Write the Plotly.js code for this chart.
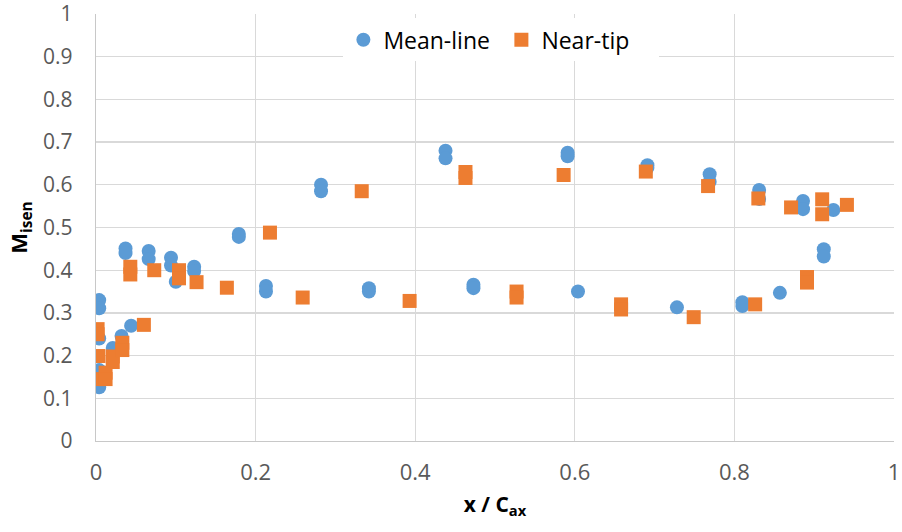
<!DOCTYPE html>
<html>
<head>
<meta charset="utf-8">
<script src="https://cdn.plot.ly/plotly-3.0.1.min.js"></script>
<style>html,body{margin:0;padding:0;background:#fff;}#chart{width:902px;height:532px;}</style>
</head>
<body>
<div id="chart"></div>
<script>
// Mean-line series
const meanX = [0.004,0.004,0.004,0.004,0.004,0.004,0.021,0.032,0.044,0.037,0.037,0.066,0.066,0.094,0.094,0.100,0.123,0.123,0.179,0.179,0.213,0.213,0.282,0.282,0.342,0.342,0.438,0.438,0.473,0.473,0.591,0.591,0.604,0.691,0.691,0.728,0.769,0.769,0.810,0.810,0.831,0.831,0.857,0.886,0.886,0.912,0.912,0.924];
const meanY = [0.330,0.311,0.240,0.166,0.160,0.126,0.218,0.246,0.270,0.451,0.440,0.445,0.426,0.429,0.411,0.373,0.408,0.398,0.485,0.478,0.363,0.350,0.600,0.585,0.358,0.350,0.680,0.662,0.366,0.358,0.675,0.667,0.350,0.646,0.640,0.313,0.625,0.607,0.325,0.316,0.588,0.567,0.347,0.562,0.543,0.449,0.432,0.541];
// Near-tip series
const tipX = [0.002,0.002,0.003,0.003,0.012,0.012,0.021,0.021,0.033,0.033,0.060,0.043,0.043,0.073,0.104,0.104,0.126,0.164,0.218,0.259,0.333,0.393,0.463,0.463,0.527,0.527,0.586,0.658,0.658,0.689,0.749,0.767,0.826,0.830,0.871,0.891,0.891,0.910,0.910,0.941];
const tipY = [0.262,0.250,0.199,0.145,0.160,0.145,0.198,0.185,0.230,0.213,0.272,0.408,0.390,0.400,0.400,0.381,0.372,0.359,0.488,0.336,0.585,0.328,0.630,0.616,0.350,0.336,0.623,0.320,0.308,0.631,0.290,0.597,0.320,0.568,0.547,0.384,0.371,0.566,0.531,0.553];

const seriesNames = ['Mean-line','Near-tip'];
const xTicks = [0,0.2,0.4,0.6,0.8,1];
const xTickText = ['0','0.2','0.4','0.6','0.8','1'];
const yTicks = [0,0.1,0.2,0.3,0.4,0.5,0.6,0.7,0.8,0.9,1];
const yTickText = ['0','0.1','0.2','0.3','0.4','0.5','0.6','0.7','0.8','0.9','1'];

const font = 'Open Sans, Liberation Sans, sans-serif';

const traces = [
  {x: meanX, y: meanY, name: seriesNames[0], type: 'scatter', mode: 'markers',
   marker: {symbol: 'circle', size: 14, color: '#5B9BD5'}},
  {x: tipX, y: tipY, name: seriesNames[1], type: 'scatter', mode: 'markers',
   marker: {symbol: 'square', size: 14, color: '#ED7D31'}}
];

const layout = {
  width: 902, height: 532,
  margin: {l: 96, r: 8, t: 14, b: 91},
  paper_bgcolor: '#ffffff', plot_bgcolor: '#ffffff',
  font: {family: font, color: '#595959', size: 21},
  showlegend: true,
  legend: {
    orientation: 'h', x: 0.31, xanchor: 'left', y: 0.99, yanchor: 'top',
    bgcolor: '#ffffff', font: {family: font, size: 23, color: '#000000'},
    itemwidth: 30, entrywidth: 113, entrywidthmode: 'pixels'
  },
  xaxis: {
    range: [0, 1], tickvals: xTicks, ticktext: xTickText,
    showgrid: true, gridcolor: '#d9d9d9', gridwidth: 1.3,
    showline: true, linecolor: '#c8c8c8', linewidth: 1.3,
    zeroline: false, ticks: 'outside', ticklen: 11, tickcolor: 'rgba(0,0,0,0)',
    ticklabeloverflow: 'allow',
    tickfont: {family: font, size: 22, color: '#595959'},
    title: {text: 'x / C<sub>ax</sub>', font: {family: font, size: 21, color: '#000000', weight: 'bold'}, standoff: 12}
  },
  yaxis: {
    range: [0, 1], tickvals: yTicks, ticktext: yTickText,
    showgrid: true, gridcolor: '#d9d9d9', gridwidth: 1.3,
    showline: true, linecolor: '#c8c8c8', linewidth: 1.3,
    zeroline: false, ticks: 'outside', ticklen: 18, tickcolor: 'rgba(0,0,0,0)',
    ticklabeloverflow: 'allow',
    tickfont: {family: font, size: 21, color: '#595959'},
    title: {text: 'M<sub>isen</sub>', font: {family: font, size: 22, color: '#000000', weight: 'bold'}, standoff: 9}
  }
};

Plotly.newPlot('chart', traces, layout, {displayModeBar: false, staticPlot: true});
</script>
</body>
</html>
